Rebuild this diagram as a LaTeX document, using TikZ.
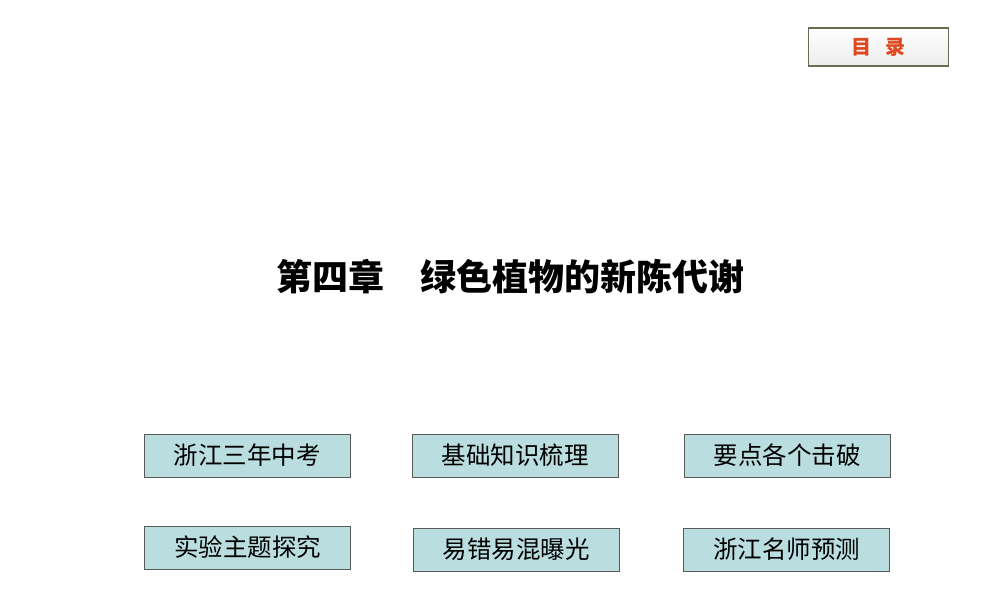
\documentclass[tikz,border=0pt]{standalone}
\usepackage{fontspec}
\newfontfamily\cjk{Noto Sans CJK SC}
\definecolor{boxfill}{RGB}{186,222,224}
\definecolor{mlred}{RGB}{222,72,32}
\definecolor{mlframe}{RGB}{100,110,80}
\begin{document}
\begin{tikzpicture}[x=1pt,y=-1pt,
 mbox/.style={draw=black!65,fill=boxfill,line width=1pt,minimum width=206pt,minimum height=43pt,font=\cjk\fontsize{24.5}{24.5}\selectfont,inner sep=0pt}]
\useasboundingbox (0,0) rectangle (1000,600);
\fill[white] (0,0) rectangle (1000,600);
\node[draw=mlframe,line width=1.5pt,top color=white,bottom color=gray!15,minimum width=140pt,minimum height=38pt,font=\cjk\fontsize{20}{20}\selectfont\bfseries,text=mlred,inner sep=0pt] (ml) at (878.5,47) {目\hspace{0.7em}录};
\node[font=\cjk\fontsize{36}{36}\selectfont\bfseries] (t) at (510,277) {第四章\hspace{1em}绿色植物的新陈代谢};
\node[mbox] (a) at (247,455.5) {浙江三年中考};
\node[mbox] (b) at (515,455.5) {基础知识梳理};
\node[mbox] (c) at (787,455.5) {要点各个击破};
\node[mbox] (d) at (247.5,547.5) {实验主题探究};
\node[mbox] (e) at (516,549.5) {易错易混曝光};
\node[mbox] (f) at (786.5,549.5) {浙江名师预测};
\end{tikzpicture}
\end{document}
